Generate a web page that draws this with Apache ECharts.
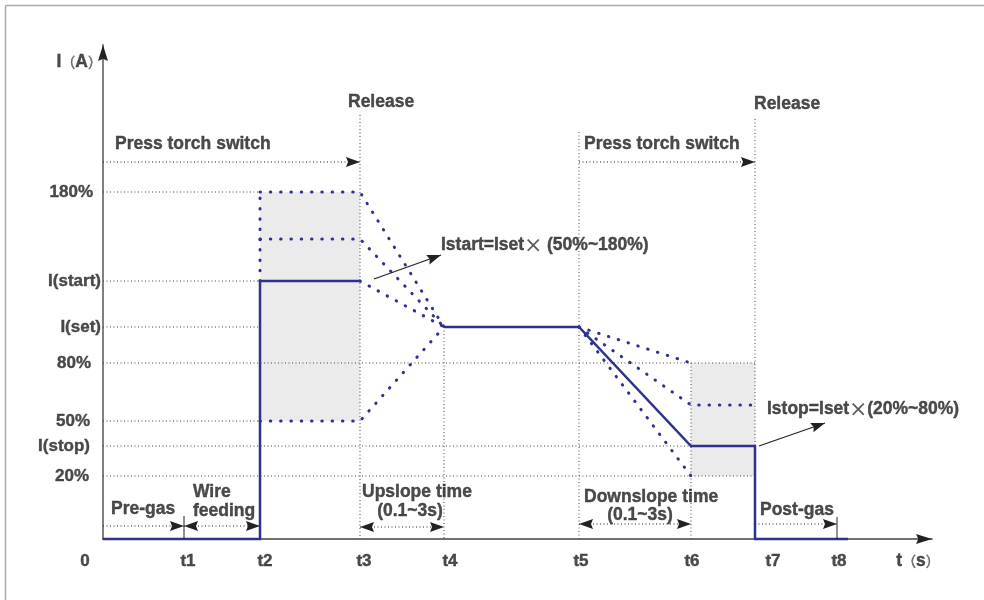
<!DOCTYPE html>
<html>
<head>
<meta charset="utf-8">
<script src="https://cdn.jsdelivr.net/npm/echarts@6/dist/echarts.min.js"></script>
<style>html,body{margin:0;padding:0;background:#fff;}#c{width:984px;height:600px;}</style>
</head>
<body>
<div id="c"></div>
<script>
// ---- data (schematic units) ----
const tNames = ['0', 't1', 't2', 't3', 't4', 't5', 't6', 't7', 't8'];
const tPos = [0, 81, 157, 257, 341, 476, 588, 652, 734];
const levelNames = ['180%', 'I(start)', 'I(set)', '80%', '50%', 'I(stop)', '20%'];
const levelVals = [347, 258, 212, 176, 118, 93, 63];
const startMidLevel = 300;   // unlabeled dotted level between 180% and I(start)
const stopMidLevel = 134;    // unlabeled dotted level between 80% and I(stop)
const baseEnd = 745;         // end of the drawn zero-current line
const pressLevel = 377;      // "Press torch switch" arrows
const releaseTop = [424, 420]; // top of the Release marker lines (t3, t7)
const t5Top = 407;
const spanLevels = [13, 12, 15]; // pre-gas/wire, upslope, downslope/post-gas arrows
const axisMax = { x: 829, y: 494 };

const notes = [
  { text: 'Press torch switch', x: 12, y: 395, align: 'left' },
  { text: 'Press torch switch', x: 481, y: 395, align: 'left' },
  { text: 'Release', x: 245, y: 437, align: 'left' },
  { text: 'Release', x: 651, y: 435, align: 'left' },
  { text: 'Istart=Iset{x|×} (50%~180%)', x: 338, y: 294, align: 'left' },
  { text: 'Istop=Iset{x|×}(20%~80%)', x: 664, y: 130, align: 'left' },
  { text: 'Pre-gas', x: 8, y: 30, align: 'left' },
  { text: 'Wire', x: 90, y: 47, align: 'left' },
  { text: 'feeding', x: 90, y: 28, align: 'left' },
  { text: 'Upslope time', x: 259, y: 47, align: 'left' },
  { text: '(0.1~3s)', x: 307, y: 28, align: 'center' },
  { text: 'Downslope time', x: 481, y: 42, align: 'left' },
  { text: '(0.1~3s)', x: 537, y: 24, align: 'center' },
  { text: 'Post-gas', x: 657, y: 29, align: 'left' },
  { text: 'I{p|（}A{p|）}', x: -1, y: 477, align: 'right' },
  { text: 't{p|（}s{p|）}', x: 815, y: -22, align: 'center' }
];
const annoArrows = [
  [[271, 260], [338, 284]],
  [[656, 93], [722, 116]]
];

// ---- styles ----
const BLUE = '#2d3190';
const TXT = '#1e1e1e';
const FONT = '"Liberation Sans", Arial, sans-serif';
const xLabelDx = [-18, 4, 5, 4, 6, 2, 1, 18, 2];
const yLabelGap = [10, 2, 2, 12, 13, 13, 14];
const HEAD = 'path://M0,0 L5,14 L0,12 L-5,14 Z';
const HEAD_SIZE = [10, 14];

const T = tPos;
const [L180, LSTART, LSET, L80, L50, LSTOP, L20] = levelVals;

const guide = { color: '#444', width: 1, type: [1, 2.5] };
const blueDot = { color: BLUE, width: 3, type: [0.5, 9.8], cap: 'round' };
const blueSolid = { color: BLUE, width: 2.5, join: 'miter' };

function poly(points, style, z) {
  return { type: 'line', data: points, symbol: 'none', showSymbol: false, lineStyle: style,
           z: z, silent: true, animation: false, clip: false };
}

const series = [];

// shaded ranges
series.push({
  type: 'line', data: [], silent: true, z: 1,
  markArea: {
    silent: true,
    itemStyle: { color: '#ebebeb' },
    data: [
      [{ coord: [T[2], L180] }, { coord: [T[3], L50] }],
      [{ coord: [T[6], L80] }, { coord: [T[7], L20] }]
    ]
  }
});

// gray guides
const guides = [
  [[0, L180], [T[2], L180]],
  [[0, LSTART], [T[2], LSTART]],
  [[0, LSET], [T[2], LSET]],
  [[0, L80], [T[7], L80]],
  [[0, L50], [T[2], L50]],
  [[0, LSTOP], [T[6], LSTOP]],
  [[0, L20], [T[7], L20]],
  [[T[3], releaseTop[0]], [T[3], 0]],
  [[T[4], LSET], [T[4], 0]],
  [[T[5], t5Top], [T[5], 0]],
  [[T[6], L80], [T[6], 0]],
  [[T[7], releaseTop[1]], [T[7], LSTOP]]
];
guides.forEach(g => series.push(poly(g, guide, 2)));

// blue dotted alternatives
const dotted = [
  [[T[2], LSTART], [T[2], L180]],
  [[T[2], L180], [T[3], L180], [T[4], LSET]],
  [[T[2], startMidLevel], [T[3], startMidLevel], [T[4], LSET]],
  [[T[3], LSTART], [T[4], LSET]],
  [[T[2], L50], [T[3], L50], [T[4], LSET]],
  [[T[5], LSET], [T[6], L80]],
  [[T[5], LSET], [T[6], stopMidLevel], [T[7], stopMidLevel]],
  [[T[5], LSET], [T[6], L20]]
];
dotted.forEach(g => series.push(poly(g, blueDot, 3)));

// main current profile
series.push(poly([[0, 0], [T[2], 0], [T[2], LSTART], [T[3], LSTART]], blueSolid, 4));
series.push(poly([[T[4], LSET], [T[5], LSET], [T[6], LSTOP], [T[7], LSTOP], [T[7], 0], [baseEnd, 0]], blueSolid, 4));

// dimension arrows: dotted shafts + filled heads
const arrowDotStyle = { color: '#222', width: 1, type: [1, 2.5] };
const spans = [
  { c: [[0, pressLevel], [T[3], pressLevel]], heads: [1] },
  { c: [[T[5], pressLevel], [T[7], pressLevel]], heads: [1] },
  { c: [[0, spanLevels[0]], [T[1], spanLevels[0]]], heads: [1] },
  { c: [[T[1], spanLevels[0]], [T[2], spanLevels[0]]], heads: [0, 1] },
  { c: [[T[3], spanLevels[1]], [T[4], spanLevels[1]]], heads: [0, 1] },
  { c: [[T[5], spanLevels[2]], [T[6], spanLevels[2]]], heads: [0, 1] },
  { c: [[T[7], spanLevels[2]], [T[8], spanLevels[2]]], heads: [1] }
];
spans.forEach(s => series.push(poly(s.c, arrowDotStyle, 5)));
annoArrows.forEach(a => series.push(poly(a, { color: '#222', width: 1.2 }, 5)));

// arrowheads (axis units are 1:1 with pixels on both axes)
const heads = [];
function addHead(from, tip, size) {
  const sz = size || HEAD_SIZE;
  const dx = tip[0] - from[0], dy = tip[1] - from[1];
  const len = Math.hypot(dx, dy);
  const ux = dx / len, uy = dy / len;
  const half = sz[1] / 2;
  const ang = Math.atan2(dy, dx) * 180 / Math.PI;
  heads.push({ value: [tip[0] - ux * half, tip[1] - uy * half], symbolRotate: ang - 90, symbolSize: sz });
}
spans.forEach(s => {
  const [a, b] = s.c;
  s.heads.forEach(h => h === 1 ? addHead(a, b) : addHead(b, a));
});
annoArrows.forEach(a => addHead(a[0], a[1]));
// axis arrowheads
addHead([0, 0], [axisMax.x, 0], [10, 16]);
addHead([0, 0], [0, axisMax.y], [10, 16]);
series.push({ type: 'scatter', data: heads, symbol: HEAD, symbolSize: HEAD_SIZE, z: 6,
              itemStyle: { color: '#222', opacity: 1 }, silent: true, animation: false, clip: false });

// small end ticks at t1 and t8
series.push(poly([[T[1], 0], [T[1], 23]], { color: '#222', width: 1 }, 5));
series.push(poly([[T[8], 0], [T[8], 22]], { color: '#222', width: 1 }, 5));

// text
const rich = {
  x: { fontFamily: '"Noto Sans CJK SC", sans-serif', fontWeight: 'normal', fontSize: 18, color: '#333' },
  p: { fontFamily: '"Noto Sans CJK SC", sans-serif', fontWeight: 'normal', fontSize: 14, color: '#555' }
};
const textBase = { show: true, color: TXT, fontFamily: FONT, fontWeight: 'bold', fontSize: 17,
                   textBorderColor: TXT, textBorderWidth: 0.4, rich: rich };
function textSeries(items) {
  return { type: 'scatter', symbolSize: 0, silent: true, z: 7, clip: false, animation: false,
           data: items };
}
series.push(textSeries(notes.map(n => ({
  value: [n.x, n.y],
  label: Object.assign({}, textBase, { fontSize: 17.5, position: 'inside', align: n.align, verticalAlign: 'middle', formatter: n.text })
}))));
series.push(textSeries(tNames.map((n, i) => ({
  value: [T[i], 0],
  label: Object.assign({}, textBase, { position: 'inside', align: 'center', verticalAlign: 'middle',
                                       offset: [xLabelDx[i], 22], formatter: n })
}))));
series.push(textSeries(levelNames.map((n, i) => ({
  value: [0, levelVals[i]],
  label: Object.assign({}, textBase, { position: 'inside', align: 'right', verticalAlign: 'middle',
                                       offset: [-yLabelGap[i], 0], formatter: n })
}))));

const chart = echarts.init(document.getElementById('c'), null, { renderer: 'canvas' });
chart.setOption({
  backgroundColor: '#fff',
  animation: false,
  grid: { left: 103, right: 52, top: 45, bottom: 61 },
  xAxis: {
    type: 'value', min: 0, max: axisMax.x,
    axisLine: { show: true, lineStyle: { color: '#444', width: 1.5 } },
    axisTick: { show: false }, axisLabel: { show: false }, splitLine: { show: false }
  },
  yAxis: {
    type: 'value', min: 0, max: axisMax.y,
    axisLine: { show: true, lineStyle: { color: '#808080', width: 2 } },
    axisTick: { show: false }, axisLabel: { show: false }, splitLine: { show: false }
  },
  graphic: [
    { type: 'line', shape: { x1: 5.5, y1: 5.5, x2: 984, y2: 5.5 }, style: { stroke: '#aaa', lineWidth: 1.5 } },
    { type: 'line', shape: { x1: 5.5, y1: 5.5, x2: 5.5, y2: 600 }, style: { stroke: '#aaa', lineWidth: 1.5 } }
  ],
  series: series
});
</script>
</body>
</html>
